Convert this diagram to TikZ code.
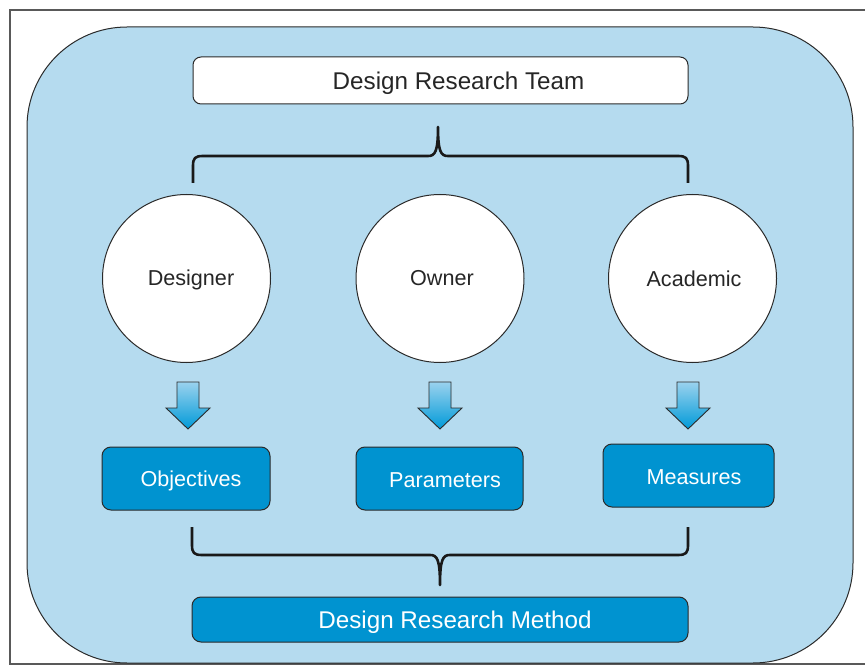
\documentclass[tikz,border=0pt]{standalone}
\usepackage{fontspec}
\setmainfont{Liberation Sans}
\definecolor{bgblue}{HTML}{B5DBEF}
\definecolor{boxblue}{HTML}{0093D0}
\definecolor{arrtop}{HTML}{9AD2EE}
\definecolor{arrbot}{HTML}{009AD8}
\definecolor{edge}{HTML}{2A2A2A}
\newcommand{\shtxt}[3]{\hspace*{#1}\raisebox{#2}[\height][\depth]{#3}}
\begin{document}
\begin{tikzpicture}[x=1pt,y=-1pt,
  bigfont/.style={font=\fontsize{24.2}{28}\selectfont},
  midfont/.style={font=\fontsize{21.6}{26}\selectfont},
  whitebox/.style={draw=edge,line width=1pt,fill=white,rounded corners=8pt,bigfont,text=black!85,inner sep=0pt},
  bluebox/.style={draw=edge,line width=1pt,fill=boxblue,rounded corners=9pt,text=white,inner sep=0pt},
  person/.style={circle,draw=edge,line width=1pt,fill=white,minimum size=168pt,inner sep=0pt,midfont,text=black!85},
  brace/.style={draw=black!90,line width=2.6pt},
  downarrow/.style={draw=edge,line width=0.9pt,top color=arrtop,bottom color=arrbot}
]
\useasboundingbox (0,0) rectangle (865,671);
% outer frame
\draw[draw=black!65,line width=1.4pt] (870,10) -- (10,10) -- (10,664) -- (870,664);
% blue panel
\draw[draw=edge,line width=1pt,fill=bgblue,rounded corners=100pt] (27,27) rectangle (853,663);

% top box
\node[whitebox,minimum width=495pt,minimum height=47pt] (team) at (440.5,80.5) {\shtxt{36pt}{-3pt}{Design Research Team}};

% top brace
\coordinate (tb) at (438,127);
\draw[brace,line join=round] (193,183) -- (193,166) .. controls (193,158) and (195,156) .. (203,156) -- (428,156) .. controls (435,156) and (438,152) .. (tb)
  .. controls (438,152) and (441,156) .. (448,156) -- (678,156) .. controls (686,156) and (688,158) .. (688,166) -- (688,183);

% circles
\node[person] (designer) at (186.5,278.5) {\shtxt{9pt}{-1pt}{Designer}};
\node[person] (owner) at (440,278.5) {\shtxt{4pt}{0pt}{Owner}};
\node[person] (academic) at (692.5,278.5) {\shtxt{3pt}{0pt}{Academic}};

% arrows
\foreach \cx in {188,440,688}{
  \path[downarrow] (\cx-11,382) -- (\cx+11,382) -- (\cx+11,408) -- (\cx+22,408) -- (\cx,429) -- (\cx-22,408) -- (\cx-11,408) -- cycle;
}

% result boxes
\node[bluebox,midfont,minimum width=168pt,minimum height=63pt] (obj) at (186,478.5) {\shtxt{10pt}{-2pt}{Objectives}};
\node[bluebox,midfont,minimum width=167pt,minimum height=63pt] (par) at (439.5,478.5) {\shtxt{11pt}{-1.5pt}{Parameters}};
\node[bluebox,midfont,minimum width=171pt,minimum height=63pt] (mea) at (688.5,475.5) {\shtxt{11pt}{-1.5pt}{Measures}};

% bottom brace
\coordinate (bb) at (440,585);
\draw[brace,line join=round] (192,527) -- (192,545) .. controls (192,553) and (194,555) .. (202,555) -- (430,555) .. controls (437,555) and (440,559) .. (bb)
  .. controls (440,559) and (443,555) .. (450,555) -- (678,555) .. controls (686,555) and (688,553) .. (688,545) -- (688,527);

% method box
\node[bluebox,bigfont,minimum width=496pt,minimum height=45pt] (method) at (440,619.5) {\shtxt{30pt}{-3pt}{Design Research Method}};
\end{tikzpicture}
\end{document}
